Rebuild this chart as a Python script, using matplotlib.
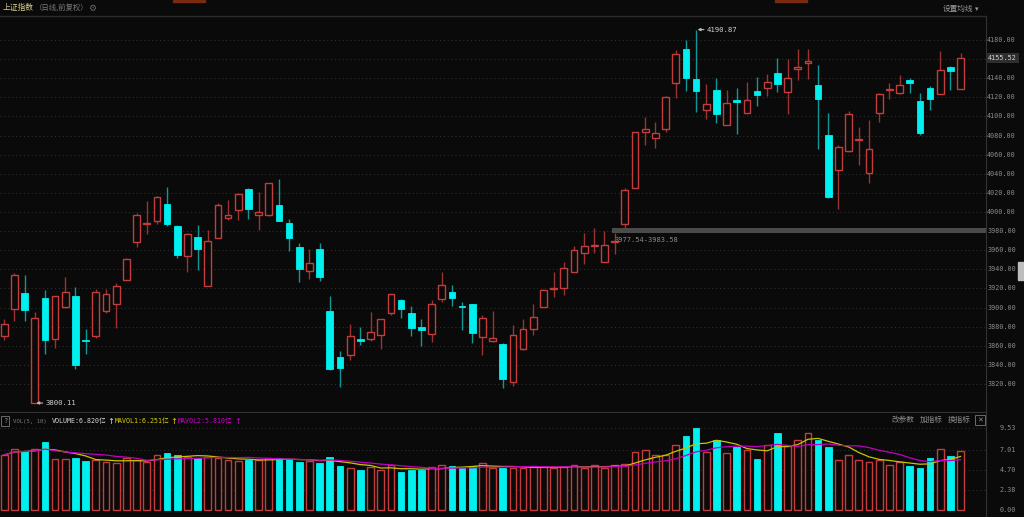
import numpy as np
import pandas as pd
import matplotlib
matplotlib.use("Agg")
import matplotlib.pyplot as plt
import matplotlib.transforms as mtransforms
from matplotlib.patches import Rectangle

plt.rcParams['font.family'] = ['Noto Sans CJK SC', 'DejaVu Sans']

# daily OHLC
opens = [3870.0, 3898.0, 3915.4, 3800.5, 3910.5, 3867.2, 3900.7, 3911.9, 3865.5, 3870.0,
         3896.2, 3903.9, 3929.0, 3968.8, 3987.0, 3990.1, 4007.9, 3985.2, 3953.8, 3973.7,
         3922.4, 3973.3, 3993.9, 4002.0, 4023.6, 3997.1, 3997.1, 4007.2, 3988.7, 3962.9,
         3938.1, 3960.8, 3896.2, 3848.4, 3850.5, 3867.2, 3866.9, 3871.4, 3894.5, 3908.4,
         3894.5, 3879.8, 3872.8, 3909.1, 3916.5, 3901.1, 3904.2, 3869.3, 3864.9, 3861.4,
         3821.9, 3856.8, 3877.8, 3900.5, 3918.9, 3920.0, 3937.1, 3957.0, 3964.6, 3947.6,
         3968.7, 3987.0, 4025.4, 4084.0, 4077.7, 4087.2, 4135.3, 4170.2, 4138.8, 4106.4,
         4127.3, 4090.7, 4116.8, 4103.6, 4126.6, 4130.1, 4145.1, 4125.9, 4150.0, 4156.3,
         4132.5, 4080.2, 4043.9, 4063.8, 4075.8, 4040.4, 4103.6, 4128.0, 4124.9, 4137.8,
         4116.5, 4129.7, 4123.1, 4151.7, 4128.3]
highs = [3887.5, 3936.3, 3933.6, 3895.5, 3918.2, 3912.6, 3931.5, 3921.0, 3877.7, 3919.6,
         3918.9, 3925.9, 3951.4, 3999.2, 4011.0, 4016.3, 4026.0, 3986.3, 3977.5, 3985.9,
         3980.7, 4008.9, 4012.4, 4019.4, 4025.3, 4021.2, 4030.6, 4034.8, 3992.2, 3967.1,
         3960.8, 3967.8, 3911.9, 3854.3, 3882.3, 3879.8, 3895.5, 3888.5, 3914.7, 3909.1,
         3902.1, 3888.5, 3908.4, 3937.0, 3924.1, 3906.0, 3904.2, 3892.0, 3896.9, 3862.4,
         3881.9, 3888.2, 3903.2, 3919.6, 3937.1, 3947.6, 3964.3, 3977.6, 3983.5, 3980.0,
         3977.6, 4025.4, 4084.0, 4099.4, 4094.5, 4121.4, 4169.2, 4180.0, 4190.87, 4133.6,
         4140.6, 4127.3, 4129.4, 4136.4, 4141.6, 4144.1, 4161.5, 4159.8, 4170.2, 4170.2,
         4153.5, 4103.9, 4069.7, 4105.7, 4089.3, 4095.9, 4124.2, 4135.3, 4143.0, 4140.6,
         4124.2, 4131.8, 4168.5, 4152.8, 4166.7]
lows = [3866.5, 3886.4, 3885.7, 3800.11, 3851.5, 3857.8, 3899.7, 3835.8, 3851.5, 3868.3,
        3893.8, 3878.4, 3928.7, 3963.6, 3977.2, 3987.3, 3985.2, 3952.1, 3937.0, 3939.1,
        3922.4, 3973.3, 3991.5, 3991.5, 3992.2, 3980.7, 3995.7, 3990.4, 3959.0, 3926.6,
        3930.1, 3927.6, 3835.1, 3816.6, 3844.9, 3861.3, 3864.8, 3856.8, 3892.0, 3888.9,
        3870.0, 3859.6, 3863.8, 3905.6, 3902.1, 3876.3, 3863.1, 3850.8, 3863.8, 3816.0,
        3818.4, 3856.1, 3871.8, 3900.5, 3910.9, 3912.7, 3937.1, 3945.1, 3957.3, 3947.6,
        3955.6, 3983.5, 4025.4, 4069.7, 4067.3, 4083.7, 4119.6, 4126.6, 4104.6, 4096.9,
        4092.8, 4090.7, 4081.2, 4103.6, 4110.9, 4121.4, 4125.6, 4102.2, 4138.1, 4138.8,
        4065.5, 4014.2, 4002.7, 4063.1, 4049.1, 4030.6, 4094.1, 4118.6, 4123.1, 4124.9,
        4080.5, 4106.7, 4123.1, 4127.6, 4128.3]
closes = [3883.0, 3933.6, 3897.3, 3889.2, 3865.8, 3912.3, 3916.5, 3840.0, 3865.0, 3916.5,
          3913.7, 3922.4, 3951.0, 3997.1, 3988.7, 4015.9, 3987.7, 3955.2, 3977.2, 3960.8,
          3969.2, 4007.5, 3997.1, 4019.1, 4002.7, 4000.2, 4029.9, 3990.4, 3972.6, 3940.5,
          3946.8, 3931.5, 3835.8, 3836.9, 3870.0, 3864.8, 3874.9, 3888.5, 3913.7, 3898.3,
          3878.1, 3876.3, 3903.2, 3924.1, 3909.8, 3900.9, 3873.5, 3889.2, 3868.3, 3825.4,
          3870.8, 3877.1, 3890.3, 3917.9, 3920.7, 3940.9, 3959.8, 3964.0, 3965.2, 3965.4,
          3969.0, 4023.3, 4084.0, 4086.5, 4083.0, 4120.7, 4165.7, 4139.9, 4127.0, 4113.3,
          4102.5, 4114.4, 4114.7, 4117.5, 4122.8, 4136.4, 4133.6, 4139.9, 4151.7, 4158.4,
          4118.6, 4016.0, 4068.0, 4102.9, 4076.0, 4066.2, 4123.1, 4128.2, 4132.5, 4135.0,
          4082.3, 4117.9, 4148.2, 4147.5, 4161.0]
# volume in 亿
volumes = [6.4, 7.1, 6.9, 7.1, 7.9, 5.9, 5.9, 6.0, 5.7, 5.8,
           5.6, 5.5, 6.0, 5.8, 5.6, 6.4, 6.6, 6.4, 6.2, 6.0,
           6.2, 6.0, 5.8, 5.7, 5.8, 5.8, 6.0, 6.0, 5.9, 5.6,
           5.7, 5.5, 6.2, 5.1, 4.9, 4.7, 5.0, 4.7, 5.2, 4.4,
           4.7, 4.7, 5.0, 5.2, 5.1, 4.9, 5.1, 5.5, 4.9, 4.9,
           4.9, 4.9, 5.1, 5.0, 4.9, 5.0, 5.2, 4.9, 5.2, 4.9,
           5.2, 5.3, 6.7, 7.0, 6.4, 6.4, 7.6, 8.6, 9.5, 6.7,
           8.1, 6.6, 7.3, 7.0, 5.9, 7.6, 9.0, 7.4, 8.1, 9.0,
           8.1, 7.3, 5.8, 6.4, 5.8, 5.6, 5.8, 5.2, 5.6, 5.1,
           4.9, 6.0, 7.1, 6.3, 6.82]
last_price = 4155.52

price_ticks = list(range(3820, 4181, 20))
vol_ticks = [0.00, 2.38, 4.70, 7.01, 9.53]

BG = '#0a0a0a'
RED = '#c43c3c'
RED_W = '#9c3232'
CYAN = '#00f0f0'
CYAN_W = '#109898'
GRID = '#2e2e2e'
TXT = '#8c8c8c'
MONO = ['DejaVu Sans Mono', 'Noto Sans CJK SC']

n = len(closes)
x = np.arange(n)
o = np.array(opens); c = np.array(closes)
h = np.array(highs); l = np.array(lows)
v = np.array(volumes)
up = c >= o

fig = plt.figure(figsize=(10.24, 5.17), dpi=100, facecolor=BG)
W, H = 1024, 517
ax = fig.add_axes([0, 1 - 412 / H, 986 / W, (412 - 16) / H], facecolor=BG)
axv = fig.add_axes([0, 0, 986 / W, (517 - 413) / H], facecolor=BG)

xlim = (-0.42, 96.5)
LAB_X = 1016 / W   # right edge of the axis labels

# price panel
for p in price_ticks:
    ax.axhline(p, color=GRID, lw=0.8, ls=(0, (1, 2.5)), zorder=0)
ax.vlines(x[up], l[up], h[up], color=RED_W, lw=1, zorder=2)
ax.vlines(x[~up], l[~up], h[~up], color=CYAN_W, lw=1, zorder=2)
body_lo = np.minimum(o, c)
body_h = np.maximum(np.abs(c - o), 0.6)
ax.bar(x[up], body_h[up], bottom=body_lo[up], width=0.66, facecolor=BG,
       edgecolor=RED, lw=1, zorder=3)
ax.bar(x[~up], body_h[~up], bottom=body_lo[~up], width=0.66, facecolor=CYAN,
       edgecolor=CYAN, lw=0.6, zorder=3)

# gap band
ax.fill_between([59.7, xlim[1]], 3977.54, 3983.58, color='#4a4a4a', lw=0, zorder=1)
ax.text(60.0, 3970.5, '3977.54-3983.58', color='#8a8a8a', fontsize=5,
        va='center', ha='left', family=MONO)

# high / low marks
ih = int(np.argmax(h)); il = int(np.argmin(l))
for i, val in ((ih, h[ih]), (il, l[il])):
    ax.annotate('%.2f' % val, xy=(i + 0.15, val), xytext=(i + 1.05, val),
                color='#cfcfcf', fontsize=5.2, va='center', family=MONO,
                arrowprops=dict(arrowstyle='-|>', color='#bdbdbd', lw=0.8,
                                mutation_scale=4, shrinkA=0, shrinkB=0))

ax.set_xlim(*xlim)
ax.set_ylim(3790.7, 4205.1)
ax.set_xticks([])
ax.set_yticks([])
for s in ax.spines.values():
    s.set_visible(False)
ax.spines['right'].set_visible(True)
ax.spines['right'].set_color('#333333')
ax.spines['bottom'].set_visible(True)
ax.spines['bottom'].set_color('#333333')

# right axis labels (figure x, data y); the 4160 label sits under the price tag
tr_p = mtransforms.blended_transform_factory(fig.transFigure, ax.transData)
for p in price_ticks:
    if abs(p - last_price) < 10:
        continue
    fig.text(LAB_X, p, '%.2f' % p, transform=tr_p, color=TXT, fontsize=4.9,
             ha='right', va='center', family=MONO)
fig.text(LAB_X + 1 / W, c[-1], '%.2f' % last_price, transform=tr_p, color='#d6d6d6',
         fontsize=4.9, ha='right', va='center', family=MONO,
         bbox=dict(boxstyle='square,pad=0.3', fc='#2e2e2e', ec='none'))

# volume panel
for t in vol_ticks[1:]:
    axv.axhline(t, color=GRID, lw=0.8, ls=(0, (1, 2.5)), zorder=0)
axv.bar(x[up], v[up], width=0.66, facecolor=BG, edgecolor=RED, lw=1, zorder=3)
axv.bar(x[~up], v[~up], width=0.66, facecolor=CYAN, edgecolor=CYAN, lw=0.6, zorder=3)
ma5 = pd.Series(v).rolling(5, min_periods=1).mean()
ma10 = pd.Series(v).rolling(10, min_periods=1).mean()
axv.plot(x, ma5, color='#c8c400', lw=0.9, zorder=4)
axv.plot(x, ma10, color='#c000c0', lw=0.9, zorder=4)
axv.set_xlim(*xlim)
axv.set_ylim(-0.81, 11.27)
axv.set_xticks([])
axv.set_yticks([])
for s in axv.spines.values():
    s.set_visible(False)
axv.spines['right'].set_visible(True)
axv.spines['right'].set_color('#333333')
tr_v = mtransforms.blended_transform_factory(fig.transFigure, axv.transData)
for t in vol_ticks:
    fig.text(LAB_X, t, '%.2f' % t, transform=tr_v, color=TXT, fontsize=4.9,
             ha='right', va='center', family=MONO)

# header lines and texts
fig.add_artist(plt.Line2D([0, 986 / W], [1 - 16 / H] * 2, color='#2c2c2c', lw=1))
fig.add_artist(Rectangle((173 / W, 1 - 2 / H), 32 / W, 2 / H, color='#7a2a10'))
fig.add_artist(Rectangle((775 / W, 1 - 2 / H), 32 / W, 2 / H, color='#7a2a10'))
fig.add_artist(Rectangle((1018 / W, 1 - 280 / H), 6 / W, 18 / H, color='#bdbdbd'))

def ftext(px, py, s, color, size=5.5, **kw):
    fig.text(px / W, 1 - py / H, s, color=color, fontsize=size, va='center', **kw)

ftext(3, 8, '上证指数', '#d8d088', 5.6)
ftext(35, 8, '（日线,前复权）', '#7a7a7a', 5.3)
ftext(88, 8, '⚙', '#6a6a6a', 6.5, family=['DejaVu Sans'])
ftext(943, 9, '设置均线', '#9a9a9a', 5.5)
ftext(975, 9, '▾', '#9a9a9a', 5, family=['DejaVu Sans'])

ftext(3, 421, '?', '#8a8a8a', 5, family=MONO,
      bbox=dict(boxstyle='square,pad=0.25', fc='none', ec='#6a6a6a', lw=0.7))
ftext(13, 421, 'VOL(5, 10)', '#7a7a7a', 4.1, family=MONO)
ftext(52, 421, 'VOLUME:6.820亿', '#d8d8d8', 4.8, family=MONO)
ftext(107, 421, '↑', '#d8d8d8', 6, family=['DejaVu Sans'])
ftext(115, 421, 'MAVOL1:6.251亿', '#d8d000', 4.8, family=MONO)
ftext(170, 421, '↑', '#d8d000', 6, family=['DejaVu Sans'])
ftext(178, 421, 'MAVOL2:5.810亿', '#d000d0', 4.8, family=MONO)
ftext(234, 421, '↑', '#d000d0', 6, family=['DejaVu Sans'])
ftext(892, 420, '改参数', '#8a8a8a', 5.5)
ftext(920, 420, '加指标', '#8a8a8a', 5.5)
ftext(948, 420, '换指标', '#8a8a8a', 5.5)
ftext(977, 420, '✕', '#8a8a8a', 5, family=['DejaVu Sans'],
      bbox=dict(boxstyle='square,pad=0.25', fc='none', ec='#6a6a6a', lw=0.7))

fig.savefig('out.png', dpi=100, facecolor=BG)
